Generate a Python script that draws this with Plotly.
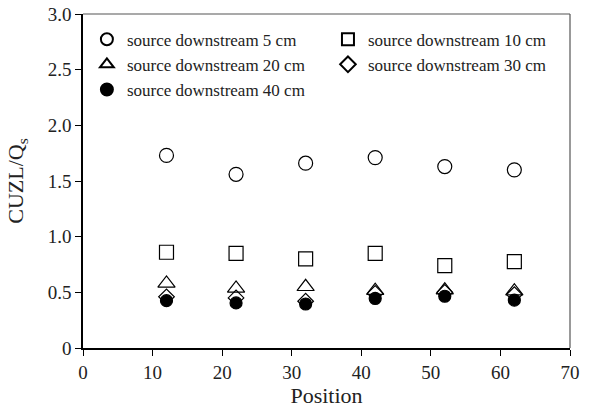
import plotly.graph_objects as go

positions = [12, 22, 32, 42, 52, 62]
cuzl_5cm = [1.73, 1.56, 1.66, 1.71, 1.63, 1.60]
cuzl_10cm = [0.86, 0.85, 0.80, 0.85, 0.74, 0.775]
cuzl_20cm = [0.58, 0.535, 0.55, 0.515, 0.52, 0.51]
cuzl_30cm = [0.46, 0.45, 0.42, 0.49, 0.50, 0.48]
cuzl_40cm = [0.425, 0.405, 0.395, 0.445, 0.465, 0.43]

series = [
    ("source downstream 5 cm", cuzl_5cm, "circle-open", 14, "legend"),
    ("source downstream 10 cm", cuzl_10cm, "square-open", 14, "legend2"),
    ("source downstream 20 cm", cuzl_20cm, "triangle-up-open", 15, "legend"),
    ("source downstream 30 cm", cuzl_30cm, "diamond-open", 12, "legend2"),
    ("source downstream 40 cm", cuzl_40cm, "circle", 12, "legend"),
]

x_ticks = [0, 10, 20, 30, 40, 50, 60, 70]
y_ticks = [0, 0.5, 1.0, 1.5, 2.0, 2.5, 3.0]
y_ticktext = ["0", "0.5", "1.0", "1.5", "2.0", "2.5", "3.0"]

fig = go.Figure()
for name, vals, sym, size, leg in series:
    fig.add_trace(go.Scatter(
        x=positions, y=vals, mode="markers", name=name, legend=leg,
        marker=dict(symbol=sym, size=size, color="black",
                    line=dict(color="black", width=1.2)),
    ))

font_family = "Liberation Serif, Times New Roman, serif"
legend_font = dict(family=font_family, size=17, color="#222")
fig.update_layout(
    width=594, height=416,
    margin=dict(l=83, r=24, t=14, b=68, autoexpand=False),
    paper_bgcolor="white", plot_bgcolor="white",
    font=dict(family=font_family, size=18, color="#222"),
    showlegend=True,
    legend=dict(
        orientation="v", x=0.008, y=0.977, xanchor="left", yanchor="top",
        font=legend_font, itemsizing="constant", bgcolor="rgba(0,0,0,0)",
    ),
    legend2=dict(
        orientation="v", x=0.503, y=0.977, xanchor="left", yanchor="top",
        font=legend_font, itemsizing="constant", bgcolor="rgba(0,0,0,0)",
    ),
    xaxis=dict(
        range=[0, 70], tickvals=x_ticks, ticks="outside", ticklen=6,
        tickcolor="black", showline=True, linecolor="black", linewidth=1.5,
        showgrid=False, zeroline=False, title=dict(text="Position", standoff=6),
        tickfont=dict(size=19), mirror=False, ticklabeloverflow="allow",
    ),
    yaxis=dict(
        range=[0, 3.0], tickvals=y_ticks, ticktext=y_ticktext, ticks="outside",
        ticklen=6, tickcolor="black", showline=True, linecolor="black",
        linewidth=1.5, showgrid=False, zeroline=False, tickfont=dict(size=19),
        title=dict(text="CUZL/Q<sub>s</sub>", standoff=18),
        ticklabeloverflow="allow",
    ),
    shapes=[
        dict(type="line", xref="paper", yref="paper", x0=0, x1=1, y0=1, y1=1,
             line=dict(color="#555", width=1.2)),
        dict(type="line", xref="paper", yref="paper", x0=1, x1=1, y0=0, y1=1,
             line=dict(color="#555", width=1.2)),
    ],
)

fig.write_html("out.html", config={"displayModeBar": False},
               post_script="document.body.style.margin='0';")
